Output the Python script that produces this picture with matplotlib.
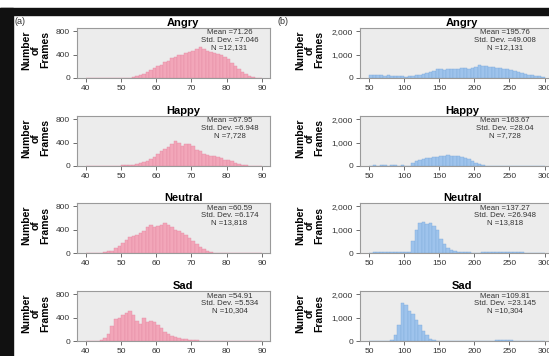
import numpy as np
import matplotlib.pyplot as plt
import matplotlib.patches as mpatches

plt.rcParams['font.family'] = ['Liberation Sans', 'DejaVu Sans']

# emotion names, one per row
emotions = ['Angry', 'Happy', 'Neutral', 'Sad']

# (a) left column: bins of width 1 from 40 to 89
left_edges = np.arange(40, 90)
angry_a = ([0]*12 +
           [5, 15, 30, 45, 70, 100, 130, 170, 200, 230, 270, 300, 340, 360, 390, 400,
            430, 450, 470, 500, 540, 500, 470, 450, 430, 410, 390, 360, 320, 260, 200,
            150, 110, 70, 40, 20, 5, 0])
happy_a = ([0]*8 +
           [3, 5, 10, 12, 15, 22, 30, 50, 70, 90, 120, 150, 200, 260, 300, 320, 370,
            430, 400, 340, 370, 380, 340, 280, 250, 210, 190, 180, 170, 150, 130, 110,
            100, 80, 60, 40, 25, 15, 5, 2] +
           [0]*2)
neutral_a = ([0]*4 +
             [5, 15, 30, 40, 80, 120, 170, 220, 280, 300, 310, 340, 380, 450, 480, 440,
              470, 490, 520, 480, 450, 400, 380, 350, 310, 250, 200, 160, 110, 70, 40,
              20, 8, 3] +
             [0]*12)
sad_a = ([0]*4 +
         [20, 60, 120, 250, 380, 390, 450, 480, 520, 450, 340, 300, 400, 330, 340, 320,
          280, 220, 160, 120, 90, 70, 50, 40, 30, 20, 15, 10, 5, 3] +
         [0]*16)

# (b) right column: bins of width 5 from 50 to 295
right_edges = np.arange(50, 300, 5)
angry_b = [120, 150, 130, 120, 100, 110, 90, 100, 80, 90, 60, 70, 90, 120, 150, 180, 220, 250,
           320, 400, 380, 350, 370, 400, 380, 390, 450, 420, 400, 430, 480, 550, 530, 520, 470,
           460, 450, 420, 380, 400, 330, 300, 250, 220, 180, 150, 120, 100, 80, 60]
happy_b = ([20, 25, 20, 30, 25, 20, 25, 30, 20, 25, 20, 15] +
           [150, 200, 250, 280, 330, 350, 380, 400, 420, 440, 470, 430, 450, 420, 400, 360,
            300, 200, 130, 80, 40, 20] +
           [10, 8, 5, 5, 5, 5, 5, 5, 5, 5, 5, 5, 5, 5, 5, 5])
neutral_b = ([20, 25, 30, 40, 50, 60, 50, 40, 30, 30, 30, 60] +
             [500, 1000, 1300, 1350, 1250, 1280, 1150, 1000, 600, 400, 200, 120, 70, 40] +
             [30, 25, 25, 20, 20, 20, 25, 25, 30, 30, 35, 40, 40, 35, 30, 30, 25, 25, 20, 20,
              20, 15, 15, 10])
sad_b = ([5, 5, 5, 5, 10] +
         [20, 60, 250, 700, 1650, 1550, 1300, 1150, 900, 700, 450, 250, 100, 30] +
         [10, 10, 10, 15, 15, 15, 15, 10, 10, 10, 10, 15, 15, 15, 15, 20, 20, 25, 30, 40,
          40, 30, 20, 15, 10, 10, 10, 10, 5, 5, 5])

stats_a = ['Mean =71.26\nStd. Dev. =7.046\nN =12,131',
           'Mean =67.95\nStd. Dev. =6.948\nN =7,728',
           'Mean =60.59\nStd. Dev. =6.174\nN =13,818',
           'Mean =54.91\nStd. Dev. =5.534\nN =10,304']
stats_b = ['Mean =195.76\nStd. Dev. =49.008\nN =12,131',
           'Mean =163.67\nStd. Dev. =28.04\nN =7,728',
           'Mean =137.27\nStd. Dev. =26.948\nN =13,818',
           'Mean =109.81\nStd. Dev. =23.145\nN =10,304']

data_a = [angry_a, happy_a, neutral_a, sad_a]
data_b = [angry_b, happy_b, neutral_b, sad_b]

fig = plt.figure(figsize=(5.49, 3.56), dpi=100)
W, H = 549, 356

# black scan border
fig.add_artist(mpatches.Rectangle((0, 1 - 15/H), 1, 7/H, transform=fig.transFigure,
                                  color='#111111', zorder=0))
fig.add_artist(mpatches.Rectangle((0, 0), 13/W, 1 - 8/H, transform=fig.transFigure,
                                  color='#111111', zorder=0))

tops = [28, 116, 203, 291]
ph = 50


def style(ax):
    ax.set_facecolor('#ececec')
    for s in ax.spines.values():
        s.set_color('#9a9a9a')
        s.set_linewidth(0.8)
    ax.tick_params(labelsize=6, colors='#555555', length=3, width=0.6, pad=2)
    for lab in ax.get_xticklabels() + ax.get_yticklabels():
        lab.set_color('#333333')


for i, emo in enumerate(emotions):
    bottom = 1 - (tops[i] + ph) / H
    # left panel
    ax = fig.add_axes([77/W, bottom, 193/W, ph/H])
    ax.bar(left_edges, data_a[i], width=1, align='edge', color='#f2a6b9',
           edgecolor='#e48ca4', linewidth=0.3)
    ax.set_xlim(37.5, 92.3)
    ax.set_ylim(0, 860)
    ax.set_xticks([40, 50, 60, 70, 80, 90])
    ax.set_yticks([0, 400, 800])
    style(ax)
    ax.set_title(emo, fontsize=8, fontweight='bold', pad=1.5, x=0.55)
    ax.text(0.79, 0.97, stats_a[i], transform=ax.transAxes, ha='center', va='top',
            fontsize=5.6, color='#333333', linespacing=1.05)
    fig.text(36/W, 1 - (tops[i] + 22)/H, 'Number\nof\nFrames', rotation=90,
             ha='center', va='center', fontsize=7.5, fontweight='bold', linespacing=0.95)

    # right panel
    ax = fig.add_axes([360/W, bottom, 193/W, ph/H])
    ax.bar(right_edges, data_b[i], width=5, align='edge', color='#9ec3ec',
           edgecolor='#80abdc', linewidth=0.3)
    ax.set_xlim(37, 312)
    ax.set_ylim(0, 2150)
    ax.set_xticks([50, 100, 150, 200, 250, 300])
    ax.set_yticks([0, 1000, 2000])
    ax.set_yticklabels(['0', '1,000', '2,000'])
    style(ax)
    ax.set_title(emo, fontsize=8, fontweight='bold', pad=1.5, x=0.53)
    ax.text(0.75, 0.97, stats_b[i], transform=ax.transAxes, ha='center', va='top',
            fontsize=5.6, color='#333333', linespacing=1.05)
    fig.text(310/W, 1 - (tops[i] + 22)/H, 'Number\nof\nFrames', rotation=90,
             ha='center', va='center', fontsize=7.5, fontweight='bold', linespacing=0.95)

fig.text(14/W, 1 - 22/H, '(a)', fontsize=6.5, va='center', color='#333333')
fig.text(277/W, 1 - 22/H, '(b)', fontsize=6.5, va='center', color='#333333')

fig.savefig('out.png', dpi=100)
